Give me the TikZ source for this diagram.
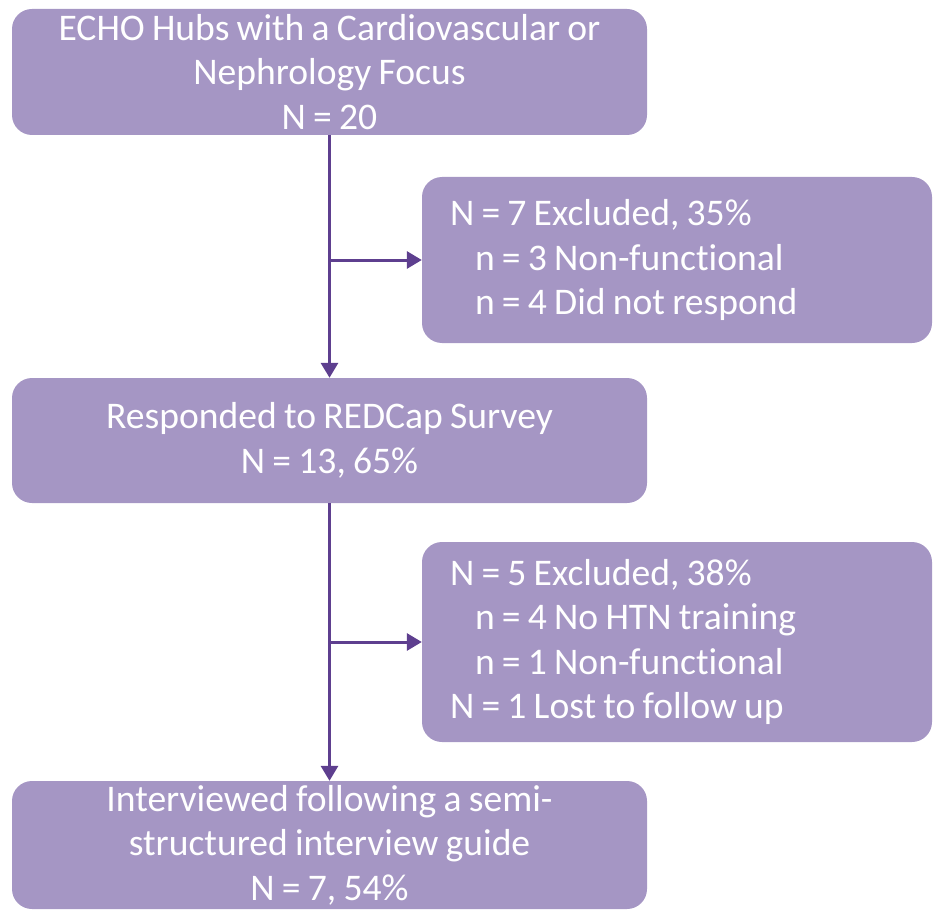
\documentclass[tikz,border=0pt]{standalone}
\usepackage{fontspec}
\setmainfont[Ligatures=NoCommon,WordSpace=0.85]{Carlito}
\usetikzlibrary{arrows.meta}
\definecolor{boxfill}{HTML}{A596C4}
\definecolor{linecol}{HTML}{5E3F8F}
\begin{document}
\begin{tikzpicture}[x=1pt,y=1pt,
  box/.style={draw=none, fill=boxfill, rounded corners=20pt, inner sep=0pt,
    text=white, font=\fontsize{37.6}{44.5}\selectfont},
  cbox/.style={box, minimum width=635pt, align=center},
  lbox/.style={box, minimum width=510pt, text width=454pt, align=flush left},
  conn/.style={draw=linecol, line width=3pt},
  arr/.style={conn, -{Triangle[length=15pt,width=17pt]}}]
\useasboundingbox (0,0) rectangle (933,-909);
\node[cbox, minimum height=126pt] (b1) at (329.5,-72) {ECHO Hubs with a Cardiovascular or\\Nephrology Focus\\N = 20};
\node[lbox, minimum height=166pt] (b2) at (677,-260) {N = 7 Excluded, 35\%\\\hspace*{25pt}n = 3 Non-functional\\\hspace*{25pt}n = 4 Did not respond};
\node[cbox, minimum height=125pt] (b3) at (329.5,-440.5) {Responded to REDCap Survey\\N = 13, 65\%};
\node[lbox, minimum height=200pt] (b4) at (677,-642) {N = 5 Excluded, 38\%\\\hspace*{25pt}n = 4 No HTN training\\\hspace*{25pt}n = 1 Non-functional\\N = 1 Lost to follow up};
\node[cbox, minimum height=128pt] (b5) at (329.5,-845) {\raisebox{-10pt}{\parbox{635pt}{\centering Interviewed following a semi-\\structured interview guide\\N = 7, 54\%}}};
\coordinate (j1) at (b1.south |- b2.west);
\coordinate (j2) at (b3.south |- b4.west);
\draw[arr] (b1.south) -- (b3.north);
\draw[arr] (j1) -- (b2.west);
\draw[arr] (b3.south) -- (b5.north);
\draw[arr] (j2) -- (b4.west);
\end{tikzpicture}
\end{document}
